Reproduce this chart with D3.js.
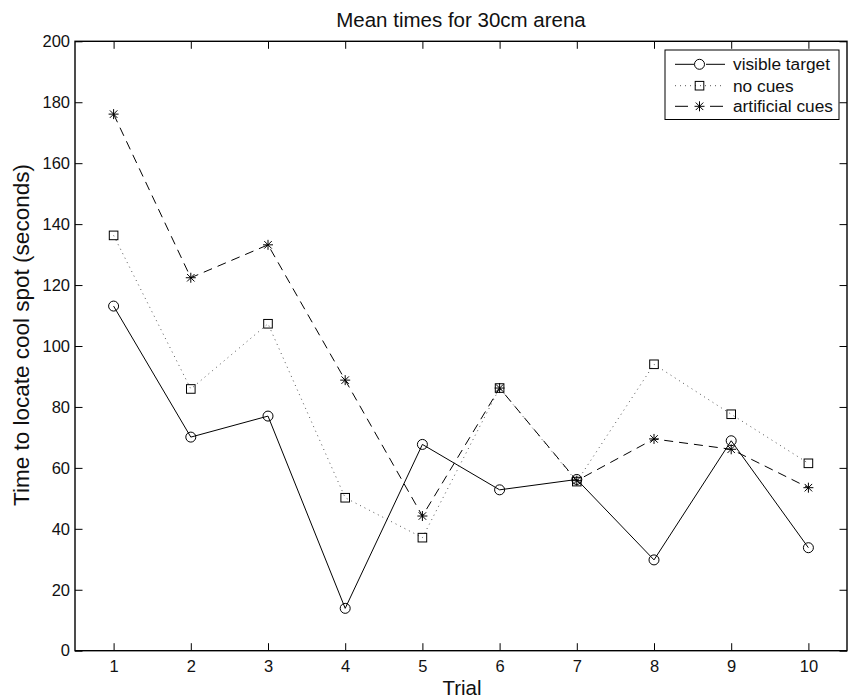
<!DOCTYPE html>
<html>
<head>
<meta charset="utf-8">
<script src="https://cdn.jsdelivr.net/npm/d3@7"></script>
<style>
  html, body { margin: 0; padding: 0; background: #fff; }
  svg { display: block; font-family: "Liberation Sans", Arial, Helvetica, sans-serif; }
</style>
</head>
<body>
<svg id="chart" width="849" height="700"></svg>
<script>
const trials = [1, 2, 3, 4, 5, 6, 7, 8, 9, 10];
const visibleTarget = [113.1, 70.1, 77.0, 13.9, 67.7, 52.8, 56.2, 29.8, 68.9, 33.8];
const noCues = [136.3, 85.9, 107.3, 50.2, 37.1, 86.2, 55.5, 94.0, 77.6, 61.5];
const artificialCues = [176.1, 122.4, 133.2, 88.8, 44.2, 86.2, 55.8, 69.5, 66.1, 53.5];
const seriesNames = ["visible target", "no cues", "artificial cues"];
const yTicks = [0, 20, 40, 60, 80, 100, 120, 140, 160, 180, 200];
const titleText = "Mean times for 30cm arena";
const xLabelText = "Trial";
const yLabelText = "Time to locate cool spot (seconds)";

const svg = d3.select("#chart");
const pLeft = 75, pRight = 847, pTop = 41.3, pBottom = 650.7;

const x = d3.scaleLinear().domain([0.5, 10.5]).range([pLeft, pRight]);
const y = d3.scaleLinear().domain([0, 200]).range([pBottom, pTop]);

const series = [
  { name: seriesNames[0], values: visibleTarget, dash: null, marker: "circle", color: "#000" },
  { name: seriesNames[1], values: noCues, dash: "1,4", marker: "square", color: "#555" },
  { name: seriesNames[2], values: artificialCues, dash: "9,6", marker: "star", color: "#000" }
];

// Axes
const tickLen = 7.5;
const axB = svg.append("g").attr("transform", `translate(0,${pBottom})`)
  .call(d3.axisBottom(x).tickValues(trials).tickFormat(d3.format("d")).tickSizeInner(-tickLen).tickSizeOuter(0).tickPadding(10));
const axT = svg.append("g").attr("transform", `translate(0,${pTop})`)
  .call(d3.axisTop(x).tickValues(trials).tickFormat("").tickSizeInner(-tickLen).tickSizeOuter(0));
const axL = svg.append("g").attr("transform", `translate(${pLeft},0)`)
  .call(d3.axisLeft(y).tickValues(yTicks).tickFormat(d3.format("d")).tickSizeInner(-tickLen).tickSizeOuter(0).tickPadding(5));
const axR = svg.append("g").attr("transform", `translate(${pRight},0)`)
  .call(d3.axisRight(y).tickValues(yTicks).tickFormat("").tickSizeInner(-tickLen).tickSizeOuter(0));

[axB, axT, axL, axR].forEach(g => {
  g.select(".domain").remove();
  g.selectAll(".tick line").attr("stroke", "#000").attr("stroke-width", 1);
  g.selectAll("text").attr("fill", "#111").style("font-size", "16.5px").style("font-family", "'Liberation Sans', Arial, sans-serif");
});

// Box
svg.append("rect").attr("x", pLeft).attr("y", pTop)
  .attr("width", pRight - pLeft).attr("height", pBottom - pTop)
  .attr("fill", "none").attr("stroke", "#000").attr("stroke-width", 1.4);

// Lines
const line = d3.line().x((d, i) => x(trials[i])).y(d => y(d));

function drawMarker(g, type, cx, cy) {
  if (type === "circle") {
    g.append("circle").attr("cx", cx).attr("cy", cy).attr("r", 5)
      .attr("fill", "none").attr("stroke", "#000").attr("stroke-width", 1);
  } else if (type === "square") {
    g.append("rect").attr("x", cx - 4.3).attr("y", cy - 4.3).attr("width", 8.6).attr("height", 8.6)
      .attr("fill", "none").attr("stroke", "#000").attr("stroke-width", 1);
  } else if (type === "star") {
    const r = 5;
    const p = [
      [cx - r, cy, cx + r, cy],
      [cx, cy - r, cx, cy + r],
      [cx - r * 0.75, cy - r * 0.75, cx + r * 0.75, cy + r * 0.75],
      [cx - r * 0.75, cy + r * 0.75, cx + r * 0.75, cy - r * 0.75]
    ];
    p.forEach(s => g.append("line").attr("x1", s[0]).attr("y1", s[1]).attr("x2", s[2]).attr("y2", s[3])
      .attr("stroke", "#000").attr("stroke-width", 1));
  }
}

series.forEach(s => {
  svg.append("path").datum(s.values)
    .attr("d", line)
    .attr("fill", "none")
    .attr("stroke", s.color)
    .attr("stroke-width", 1)
    .attr("stroke-dasharray", s.dash);
  const g = svg.append("g");
  s.values.forEach((v, i) => drawMarker(g, s.marker, x(trials[i]), y(v)));
});

// Legend
const lg = svg.append("g");
lg.append("rect").attr("x", 665).attr("y", 50).attr("width", 174).attr("height", 69.5)
  .attr("fill", "#fff").attr("stroke", "#000").attr("stroke-width", 1);
const legY = [64.3, 85.7, 106.3];
series.forEach((s, i) => {
  const yy = legY[i];
  if (s.marker === "star") {
    lg.append("line").attr("x1", 675).attr("y1", yy).attr("x2", 688).attr("y2", yy)
      .attr("stroke", "#000").attr("stroke-width", 1);
    lg.append("line").attr("x1", 710).attr("y1", yy).attr("x2", 723).attr("y2", yy)
      .attr("stroke", "#000").attr("stroke-width", 1);
  } else {
    lg.append("line").attr("x1", 675).attr("y1", yy).attr("x2", 725).attr("y2", yy)
      .attr("stroke", s.color).attr("stroke-width", 1).attr("stroke-dasharray", s.dash);
  }
  if (s.marker === "circle") lg.append("rect").attr("x", 694).attr("y", yy - 6).attr("width", 12).attr("height", 12).attr("fill", "#fff");
  drawMarker(lg, s.marker, 699.5, yy);
  lg.append("text").attr("x", 733).attr("y", yy + 6).text(s.name)
    .attr("fill", "#111").style("font-size", "17.3px");
});

// Title and labels
svg.append("text").attr("x", 461).attr("y", 26.5).attr("text-anchor", "middle")
  .style("font-size", "20.5px").attr("fill", "#111").text(titleText);
svg.append("text").attr("x", 462).attr("y", 695).attr("text-anchor", "middle")
  .style("font-size", "20.5px").attr("fill", "#111").text(xLabelText);
svg.append("text").attr("transform", `translate(29,335) rotate(-90)`).attr("text-anchor", "middle")
  .style("font-size", "22.5px").attr("fill", "#111").text(yLabelText);
</script>
</body>
</html>
